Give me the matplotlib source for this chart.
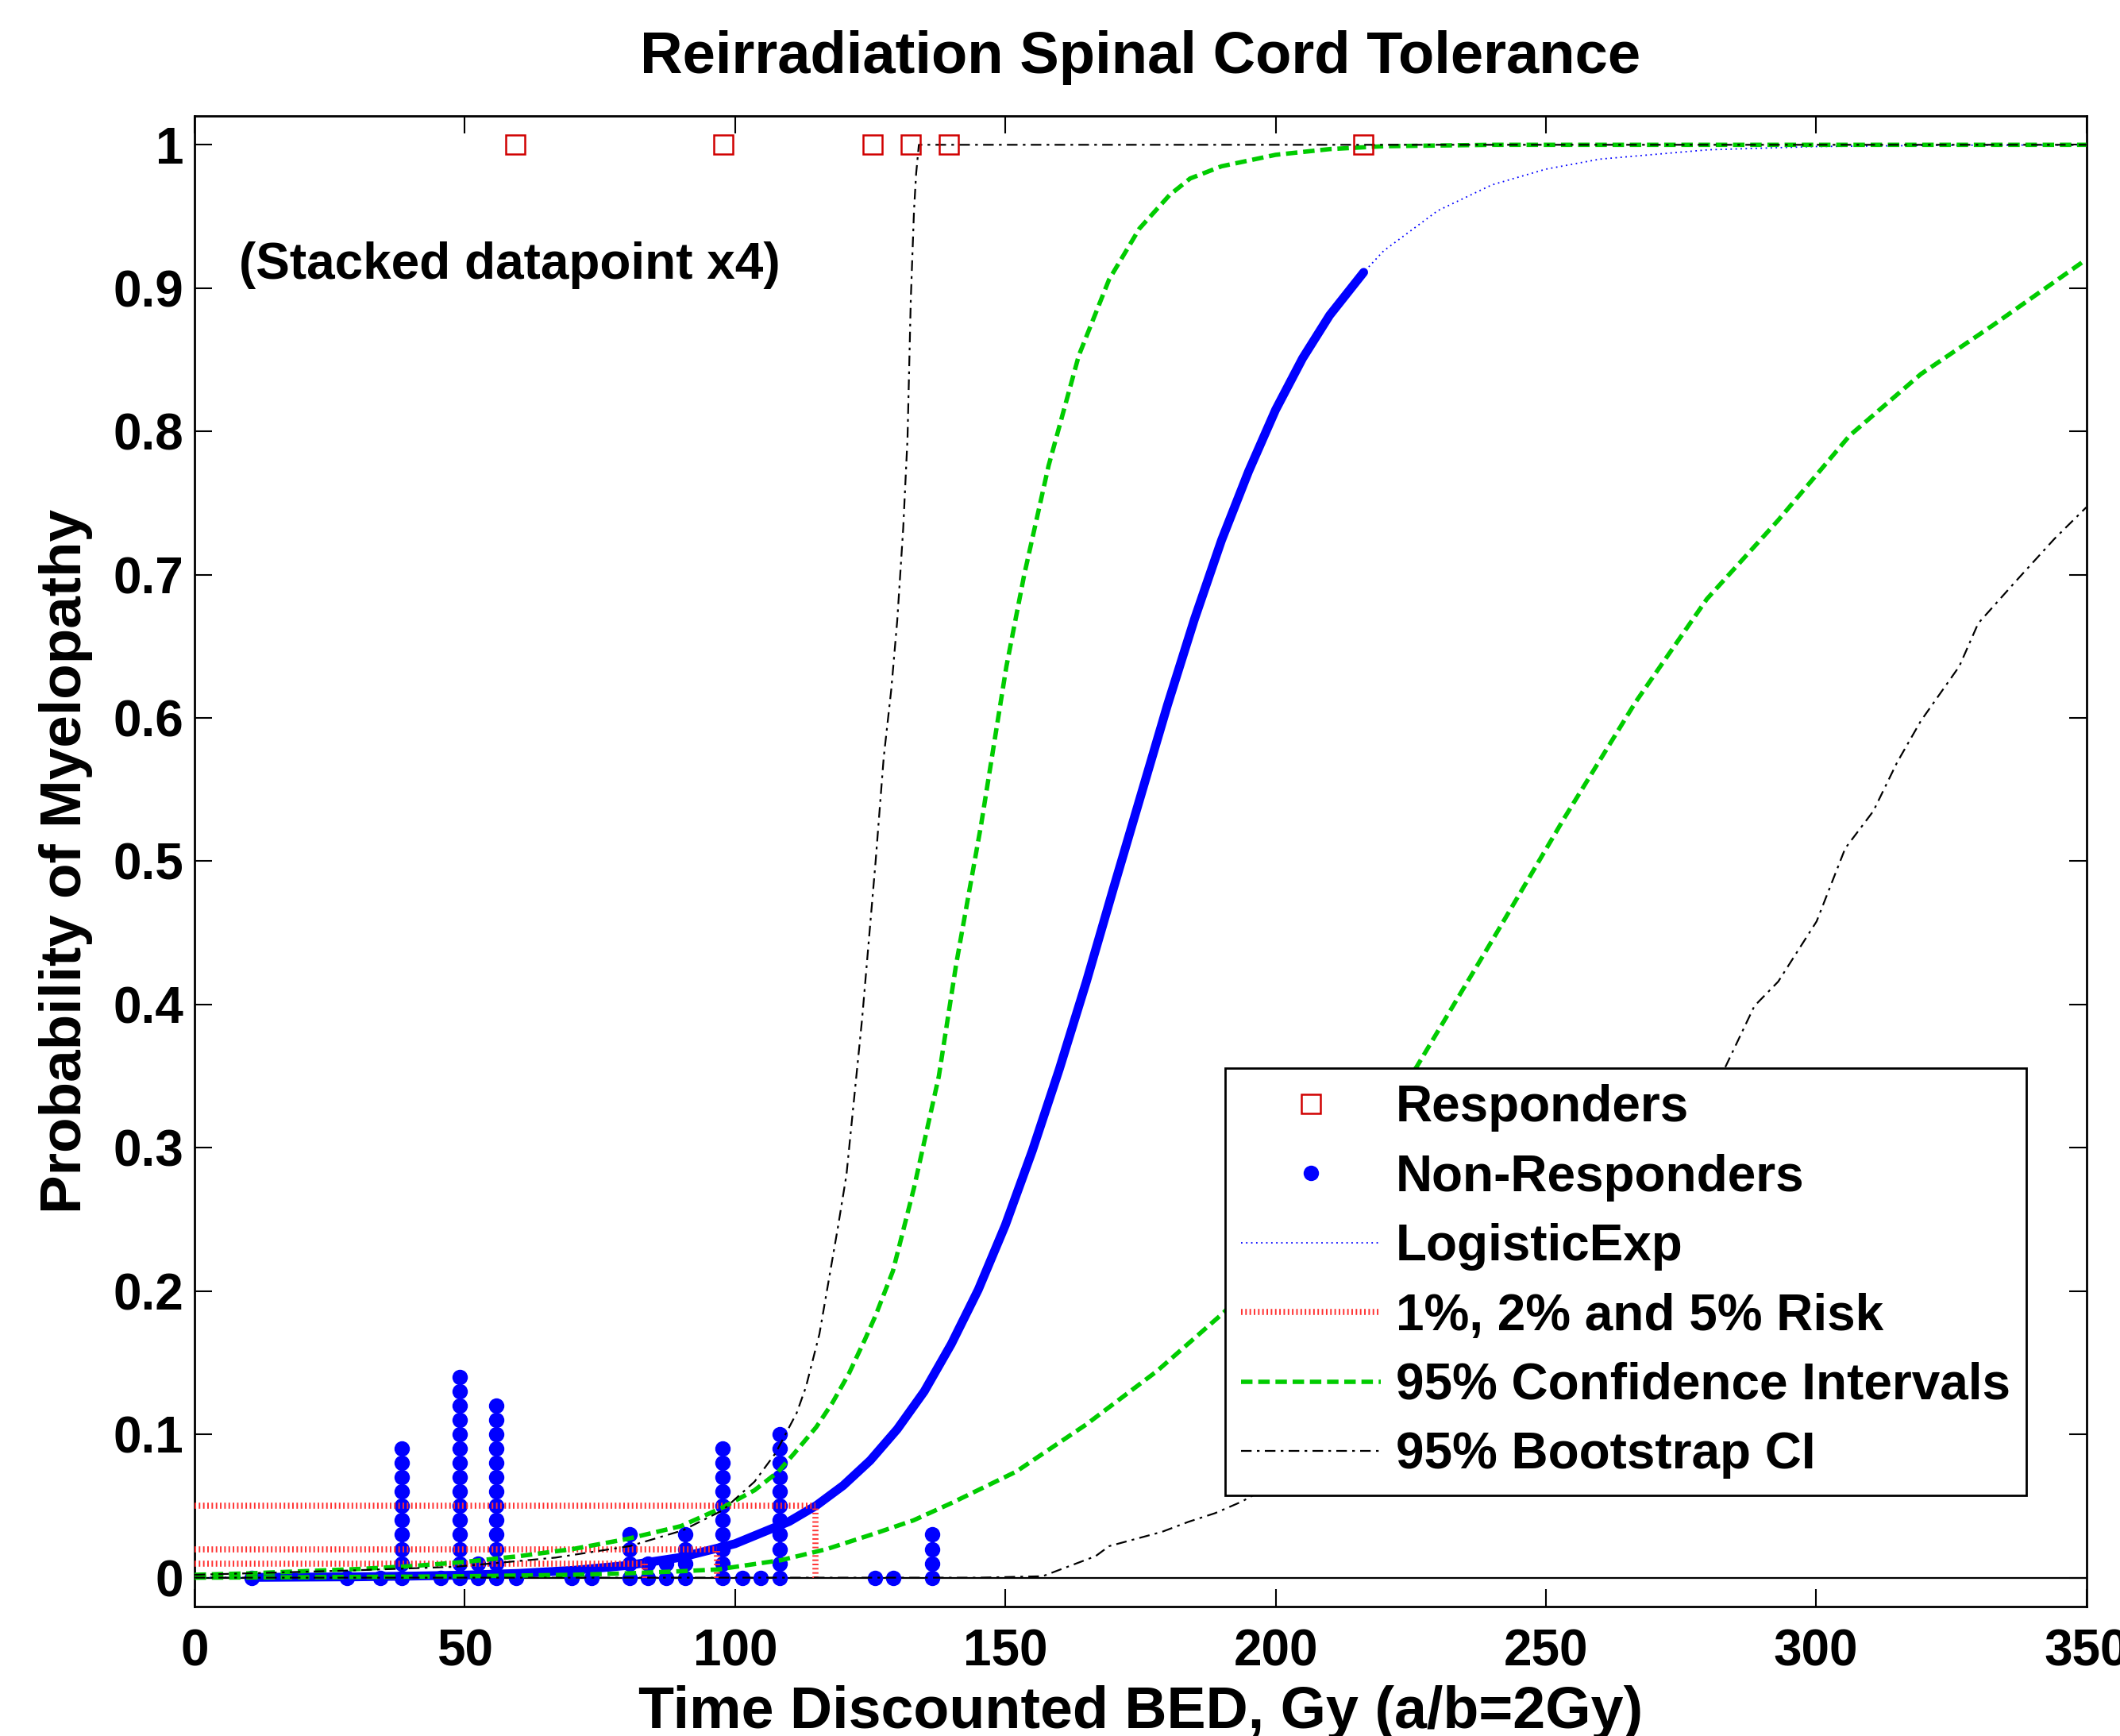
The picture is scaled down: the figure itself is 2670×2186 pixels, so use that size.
import matplotlib
matplotlib.use('Agg')
import matplotlib.pyplot as plt
import numpy as np

plt.rcParams['font.family'] = ['Liberation Sans', 'DejaVu Sans']
plt.rcParams['font.weight'] = 'bold'

# ---------------- data ----------------
responder_dose = [59.4, 97.8, 125.5, 132.5, 139.5, 216.3]
responder_prob = [1, 1, 1, 1, 1, 1]

nonresp_dose = [10.5, 28.2, 34.3, 38.4, 45.5, 49.0, 52.4, 55.8, 59.5, 69.8, 73.4,
                80.5, 83.9, 87.3, 90.8, 97.7, 101.3, 104.8, 108.2, 125.9, 129.3, 136.4]
nonresp_count = [1, 1, 1, 10, 1, 15, 2, 13, 1, 1, 1,
                 4, 2, 2, 4, 10, 1, 1, 11, 1, 1, 4]
stack_step = 0.01

logistic_dose = [0, 10.5, 20, 30, 40, 50, 60, 70, 80, 90, 100, 110, 115, 120, 125, 130,
                 135, 140, 145, 150, 155, 160, 165, 170, 175, 180, 185, 190, 195, 200,
                 205, 210, 216.3, 220, 230, 240, 250, 260, 280, 300, 325, 350]
logistic_prob = [0.0001, 0.0002, 0.0004, 0.0006, 0.0011, 0.0018, 0.0030, 0.0051, 0.0085,
                 0.0142, 0.0237, 0.0392, 0.0503, 0.0643, 0.0818, 0.1036, 0.130, 0.163,
                 0.201, 0.246, 0.298, 0.355, 0.416, 0.481, 0.545, 0.609, 0.669, 0.724,
                 0.772, 0.815, 0.851, 0.881, 0.911, 0.926, 0.954, 0.972, 0.983, 0.990,
                 0.9965, 0.9988, 0.9997, 0.9999]
fit_range = [10.5, 216.3]

risk_levels = [0.01, 0.02, 0.05]
risk_doses = [83.3, 96.7, 114.8]

ci_upper_dose = [0, 10, 20, 30, 40, 50, 60, 70, 80, 90, 97.7, 103.6, 108, 111, 115, 118,
                 121, 124, 126, 129.2, 133.1, 137.7, 140.9, 145.5, 150.2, 153.5, 158,
                 163.6, 169.2, 174.8, 180.4, 184.2, 190, 200, 210, 220, 240, 350]
ci_upper_prob = [0.002, 0.003, 0.0045, 0.006, 0.008, 0.011, 0.015, 0.020, 0.027, 0.036,
                 0.049, 0.061, 0.074, 0.087, 0.105, 0.122, 0.142, 0.166, 0.183, 0.214,
                 0.272, 0.350, 0.428, 0.525, 0.636, 0.700, 0.776, 0.853, 0.906, 0.9415,
                 0.965, 0.9765, 0.985, 0.993, 0.997, 0.999, 1.0, 1.0]

ci_lower_dose = [0, 20, 40, 50, 60, 70, 80, 90, 96.7, 108.5, 117, 126, 133, 140, 152, 165,
                 178, 190.4, 200, 210, 220, 226.1, 240.2, 253.4, 266.6, 279.8, 293, 306.2,
                 319.4, 332.7, 350]
ci_lower_prob = [0.0, 0.0003, 0.0007, 0.001, 0.0015, 0.002, 0.003, 0.0045, 0.0057, 0.0122,
                 0.020, 0.031, 0.040, 0.052, 0.074, 0.107, 0.144, 0.185, 0.223, 0.270,
                 0.325, 0.3565, 0.4455, 0.530, 0.611, 0.683, 0.738, 0.797, 0.840, 0.874,
                 0.920]

boot_upper_dose = [0, 28.6, 48.2, 66.8, 80.5, 90.3, 97.7, 103.6, 107.5, 111.4, 113.1, 115.6,
                   117.3, 119.0, 120.6, 123.5, 126.0, 127.5, 128.9, 130.0, 131.1, 131.9,
                   132.5, 133.1, 133.5, 134.0, 350]
boot_upper_prob = [0.002, 0.005, 0.0076, 0.014, 0.022, 0.033, 0.047, 0.067, 0.087, 0.115,
                   0.133, 0.170, 0.207, 0.244, 0.281, 0.390, 0.500, 0.5725, 0.620, 0.668,
                   0.732, 0.795, 0.891, 0.954, 0.980, 1.0, 1.0]

boot_lower_dose = [0, 145.2, 156.9, 161.8, 166.7, 169.2, 174.1, 179.0, 183.9, 188.8, 193.7,
                   196.1, 210, 230, 250, 270, 283.3, 288.6, 293.0, 300.1, 305.4, 310.6,
                   315.0, 319.4, 326.5, 330.0, 337.1, 344.1, 350]
boot_lower_prob = [0, 0, 0.001, 0.008, 0.015, 0.022, 0.027, 0.032, 0.039, 0.045, 0.053,
                   0.058, 0.090, 0.150, 0.220, 0.300, 0.357, 0.399, 0.416, 0.458, 0.509,
                   0.535, 0.569, 0.598, 0.636, 0.666, 0.696, 0.725, 0.747]

x_ticks = [0, 50, 100, 150, 200, 250, 300, 350]
y_ticks = [0, 0.1, 0.2, 0.3, 0.4, 0.5, 0.6, 0.7, 0.8, 0.9, 1.0]
y_ticklabels = ['0', '0.1', '0.2', '0.3', '0.4', '0.5', '0.6', '0.7', '0.8', '0.9', '1']

# ---------------- figure ----------------
fig = plt.figure(figsize=(26.70, 21.86), dpi=100)
ax = fig.add_axes([0.0918, 0.0747, 0.8923, 0.8584])

ax.axhline(0, color='black', lw=1.6, zorder=1)

# stacked non-responders
sx, sy = [], []
for d, c in zip(nonresp_dose, nonresp_count):
    for k in range(c):
        sx.append(d)
        sy.append(k * stack_step)
h_non, = ax.plot(sx, sy, 'o', color='#0000ff', ms=14, mew=0, ls='none', zorder=2)

h_resp, = ax.plot(responder_dose, responder_prob, 's', mfc='none', mec='#d00000',
                  ms=17, mew=1.8, ls='none', zorder=7)

ld = np.array(logistic_dose)
lp = np.array(logistic_prob)
h_log, = ax.plot(ld, lp, color='#0000ff', lw=1.3, dashes=(1, 2.5), zorder=3)
m = (ld >= fit_range[0]) & (ld <= fit_range[1])
ax.plot(ld[m], lp[m], color='#0000ff', lw=8, solid_capstyle='round', zorder=3)

red = '#ff3030'
h_risk = None
for lvl, d in zip(risk_levels, risk_doses):
    h_risk, = ax.plot([0, d], [lvl, lvl], color=red, lw=5.5, dashes=(0.25, 0.45), zorder=4)
    ax.plot([d, d], [0, lvl], color=red, lw=5.5, dashes=(0.25, 0.45), zorder=4)

green = '#00cc00'
h_ci, = ax.plot(ci_upper_dose, ci_upper_prob, color=green, lw=4, dashes=(2.6, 1.3), zorder=5)
ax.plot(ci_lower_dose, ci_lower_prob, color=green, lw=4, dashes=(2.6, 1.3), zorder=5)

h_boot, = ax.plot(boot_upper_dose, boot_upper_prob, color='black', lw=1.6,
                  dashes=(6, 3, 1.5, 3), zorder=6)
ax.plot(boot_lower_dose, boot_lower_prob, color='black', lw=1.6,
        dashes=(6, 3, 1.5, 3), zorder=6)

ax.text(8.2, 0.916, '(Stacked datapoint x4)', fontsize=46, fontweight='bold',
        ha='left', va='center')

ax.set_xlim(0, 350)
ax.set_ylim(-0.02, 1.02)
ax.set_xticks(x_ticks)
ax.set_xticklabels([str(t) for t in x_ticks])
ax.set_yticks(y_ticks)
ax.set_yticklabels(y_ticklabels)
ax.tick_params(direction='in', length=16, width=1.5, top=True, right=True, labelsize=46)
ax.tick_params(axis='x', pad=20)
ax.tick_params(axis='y', pad=10)
for s in ax.spines.values():
    s.set_linewidth(2)

ax.set_title('Reirradiation Spinal Cord Tolerance', fontsize=53.5, fontweight='bold', pad=39)
ax.set_xlabel('Time Discounted BED, Gy (a/b=2Gy)', fontsize=53, fontweight='bold', labelpad=8)
ax.set_ylabel('Probability of Myelopathy', fontsize=52.5, fontweight='bold', labelpad=18)

leg = ax.legend([h_resp, h_non, h_log, h_risk, h_ci, h_boot],
                ['Responders', 'Non-Responders', 'LogisticExp', '1%, 2% and 5% Risk',
                 '95% Confidence Intervals', '95% Bootstrap CI'],
                loc='lower left', bbox_to_anchor=(0.5446, 0.0745), borderaxespad=0,
                fancybox=False, edgecolor='black', framealpha=1, handlelength=2.75,
                handletextpad=0.3, borderpad=0.32, labelspacing=0.43, numpoints=1,
                prop={'size': 46, 'weight': 'bold'})
leg.get_frame().set_linewidth(2)
leg.set_zorder(10)

fig.savefig('out.png', dpi=100)
